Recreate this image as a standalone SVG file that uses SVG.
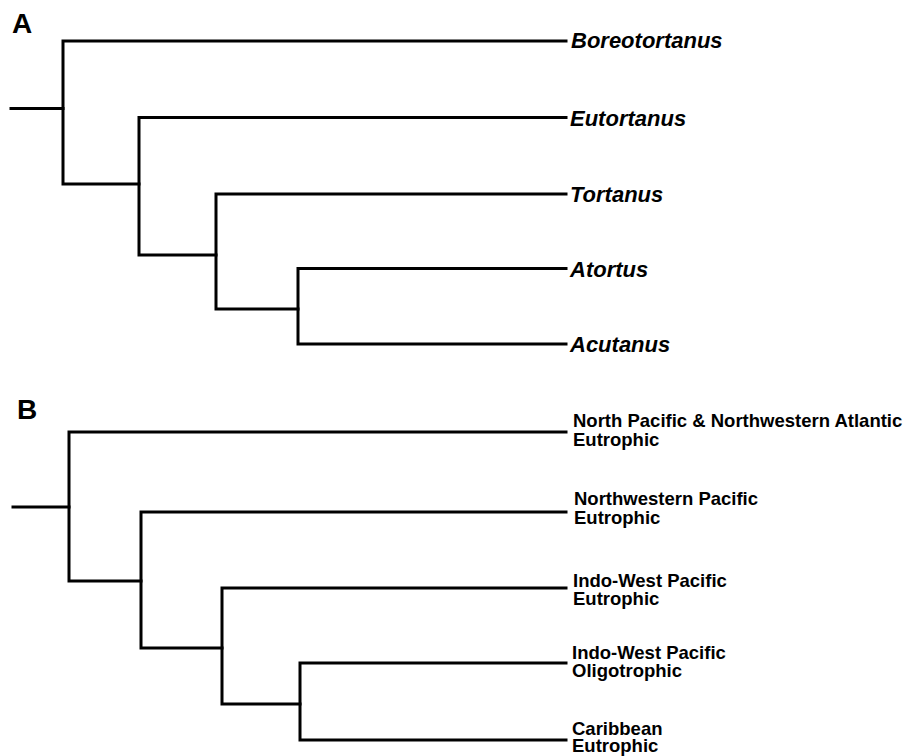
<svg xmlns="http://www.w3.org/2000/svg" width="906" height="756" viewBox="0 0 906 756">
<style>
.br{fill:none;stroke:#000;stroke-width:3;stroke-linejoin:miter;stroke-linecap:square}
.panel{font-family:"Liberation Sans",Arial,sans-serif;font-weight:bold;font-size:28px;fill:#000}
.taxon{font-family:"Liberation Sans",Arial,sans-serif;font-weight:bold;font-style:italic;font-size:22px;fill:#000}
.area{font-family:"Liberation Sans",Arial,sans-serif;font-weight:bold;font-size:18.5px;fill:#000}
</style>
<rect width="906" height="756" fill="#fff"/>
<g id="panel-labels">
<text class="panel" x="12" y="33">A</text>
<text class="panel" x="17" y="419">B</text>
</g>
<g id="connectors">
<path class="br" d="M11,108.5 H63"/>
<path class="br" d="M566,41 H63 V184 H139"/>
<path class="br" d="M566,117.5 H139 V255 H216"/>
<path class="br" d="M566,194 H216 V309 H298"/>
<path class="br" d="M566,268.5 H298 V344 H566"/>
<path class="br" d="M13,507 H69"/>
<path class="br" d="M566,432 H69 V581 H141"/>
<path class="br" d="M566,512 H141 V648 H222"/>
<path class="br" d="M566,588 H222 V704 H300"/>
<path class="br" d="M566,663 H300 V740 H566"/>
</g>
<g id="node-boreotortanus"><text class="taxon" x="571" y="48">Boreotortanus</text></g>
<g id="node-eutortanus"><text class="taxon" x="570" y="126">Eutortanus</text></g>
<g id="node-tortanus"><text class="taxon" x="570" y="201.5">Tortanus</text></g>
<g id="node-atortus"><text class="taxon" x="570" y="276.5">Atortus</text></g>
<g id="node-acutanus"><text class="taxon" x="570" y="351.5">Acutanus</text></g>
<g id="node-npacific"><text class="area" x="573" y="427">North Pacific &amp; Northwestern Atlantic<tspan x="573" y="445.5">Eutrophic</tspan></text></g>
<g id="node-nwpacific"><text class="area" x="574" y="505">Northwestern Pacific<tspan x="574" y="524">Eutrophic</tspan></text></g>
<g id="node-iwp-eu"><text class="area" x="573" y="586.5">Indo-West Pacific<tspan x="573" y="605">Eutrophic</tspan></text></g>
<g id="node-iwp-oligo"><text class="area" x="572" y="658.5">Indo-West Pacific<tspan x="572" y="677">Oligotrophic</tspan></text></g>
<g id="node-caribbean"><text class="area" x="572" y="734.5">Caribbean<tspan x="572" y="752">Eutrophic</tspan></text></g>
</svg>
